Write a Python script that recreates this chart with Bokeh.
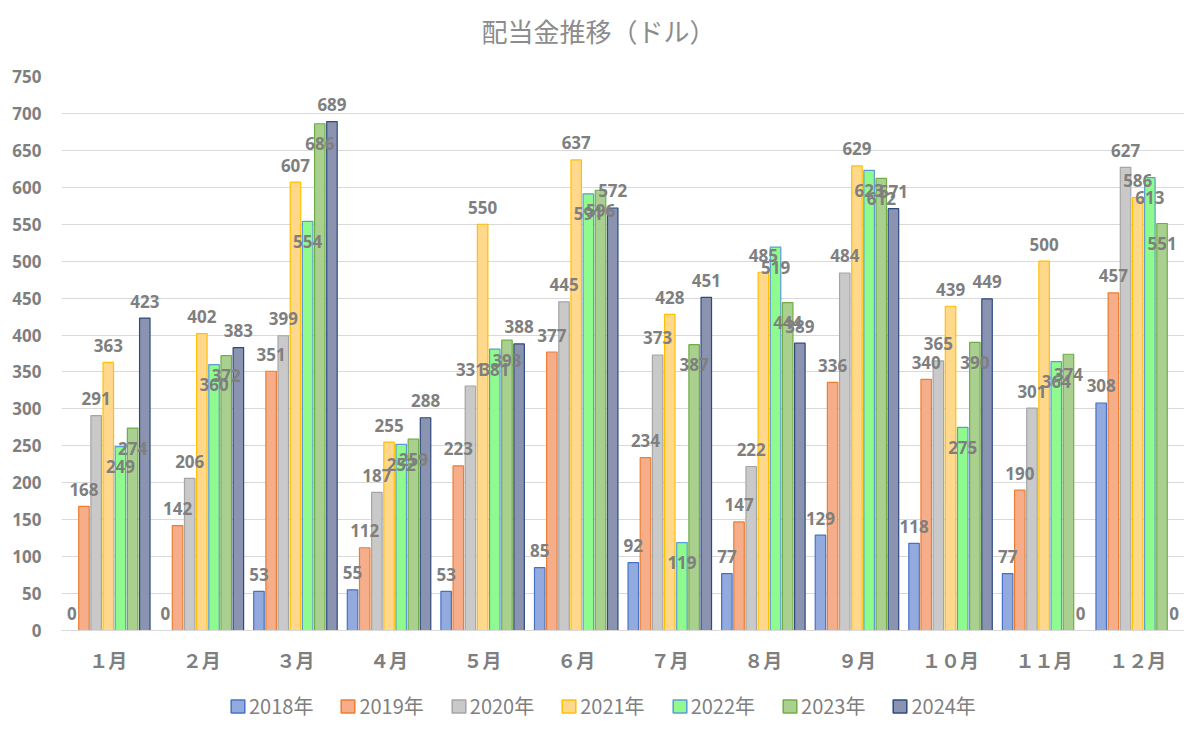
from bokeh.plotting import figure
from bokeh.layouts import column
from bokeh.models import ColumnDataSource, FixedTicker, Legend, LegendItem, Range1d, FactorRange, Label
from bokeh.transform import dodge
from bokeh.embed import file_html
from bokeh.resources import INLINE
from bokeh.core.properties import value

# ---- data ----
months = ["１月", "２月", "３月", "４月", "５月", "６月", "７月", "８月", "９月", "１０月", "１１月", "１２月"]
years = ["2018年", "2019年", "2020年", "2021年", "2022年", "2023年", "2024年"]
v2018 = [0, 0, 53, 55, 53, 85, 92, 77, 129, 118, 77, 308]
v2019 = [168, 142, 351, 112, 223, 377, 234, 147, 336, 340, 190, 457]
v2020 = [291, 206, 399, 187, 331, 445, 373, 222, 484, 365, 301, 627]
v2021 = [363, 402, 607, 255, 550, 637, 428, 485, 629, 439, 500, 586]
v2022 = [249, 360, 554, 252, 381, 591, 119, 519, 623, 275, 364, 613]
v2023 = [274, 372, 686, 259, 393, 596, 387, 444, 612, 390, 374, 551]
v2024 = [423, 383, 689, 288, 388, 572, 451, 389, 571, 449, 0, 0]
y_ticks = [0, 50, 100, 150, 200, 250, 300, 350, 400, 450, 500, 550, 600, 650, 700, 750]
title_text = "配当金推移（ドル）"

series = [v2018, v2019, v2020, v2021, v2022, v2023, v2024]

# ---- styles ----
fills = ["#93AADE", "#F5AD8A", "#C9C9C9", "#FFD88C", "#8FFB8F", "#A9D08E", "#8A93B0"]
lines = ["#4472C4", "#ED7D31", "#A5A5A5", "#FFC000", "#5B9BD5", "#70AD47", "#2F4A7E"]
inside_label = [False, False, False, False, True, True, False]
grey = "#7F7F7F"
num_font = "Open Sans"
jp_font = "Noto Sans CJK JP"
W = 1184

pitch = 0.130
bar_w = 0.112


def strip(h):
    f = figure(width=W, height=h, output_backend="svg", toolbar_location=None,
               x_range=Range1d(0, 1), y_range=Range1d(0, 1),
               x_axis_location=None, y_axis_location=None,
               min_border_left=0, min_border_right=0, min_border_top=0, min_border_bottom=0)
    f.grid.grid_line_color = None
    f.outline_line_color = None
    f.border_fill_color = "white"
    f.background_fill_color = "white"
    return f


# ---- title strip ----
tf = strip(60)
tf.add_layout(Label(x=420, y=30, x_units="screen", y_units="screen", text=title_text,
                    text_font=jp_font, text_font_size="26px", text_color="#8C8C8C",
                    text_align="left", text_baseline="middle"))

# ---- main chart ----
p = figure(width=W, height=616, output_backend="svg", toolbar_location=None,
           x_range=FactorRange(*months), y_range=Range1d(0, 750),
           min_border_left=61, min_border_right=0, min_border_top=16, min_border_bottom=46)
p.outline_line_color = None
p.background_fill_color = "white"
p.border_fill_color = "white"

src = ColumnDataSource(data=dict(month=months, **{f"y{j}": s for j, s in enumerate(series)},
                                 **{f"l{j}": [str(v) for v in s] for j, s in enumerate(series)}))

for j, yr in enumerate(years):
    off = (j - 3) * pitch
    p.vbar(x=dodge("month", off, range=p.x_range), top=f"y{j}", width=bar_w, source=src,
           fill_color=fills[j], line_color=lines[j], line_width=1.2)
for j, yr in enumerate(years):
    off = (j - 3) * pitch
    p.text(x=dodge("month", off, range=p.x_range), y=f"y{j}", text=f"l{j}", source=src,
           text_align="center", text_baseline="middle",
           y_offset=20 if inside_label[j] else -17,
           text_font=value(num_font), text_font_style="bold", text_font_size="17px",
           text_color=grey)

p.yaxis.ticker = FixedTicker(ticks=y_ticks)
p.yaxis.axis_line_color = None
p.yaxis.major_tick_line_color = None
p.yaxis.minor_tick_line_color = None
p.yaxis.major_tick_out = 0
p.yaxis.major_label_standoff = 20
p.yaxis.major_label_text_font = num_font
p.yaxis.major_label_text_font_style = "bold"
p.yaxis.major_label_text_font_size = "17px"
p.yaxis.major_label_text_color = grey

p.xaxis.axis_line_color = "#D9D9D9"
p.xaxis.axis_line_width = 1
p.xaxis.major_tick_line_color = None
p.xaxis.minor_tick_line_color = None
p.xaxis.major_tick_out = 0
p.xaxis.major_label_standoff = 15
p.xaxis.major_label_text_font = jp_font
p.xaxis.major_label_text_font_style = "bold"
p.xaxis.major_label_text_font_size = "19px"
p.xaxis.major_label_text_color = grey

p.xgrid.grid_line_color = None
p.ygrid.grid_line_color = "#D9D9D9"
p.ygrid.grid_line_width = 1

# ---- legend strip ----
lg = strip(46)
items = []
for j, yr in enumerate(years):
    r = lg.quad(left=[-5], right=[-4], bottom=[0], top=[1], fill_color=fills[j],
                line_color=lines[j], line_width=1.5)
    items.append(LegendItem(label=yr, renderers=[r]))
legend = Legend(items=items, orientation="horizontal", location=(168, 2),
                padding=0, margin=0, spacing=26, label_standoff=3,
                glyph_width=17, glyph_height=16, label_height=20,
                label_text_font=jp_font, label_text_font_size="20px",
                label_text_color=grey, border_line_color=None, background_fill_alpha=0)
lg.add_layout(legend, "center")

open("out.html", "w").write(file_html(column(tf, p, lg, spacing=0), INLINE))
